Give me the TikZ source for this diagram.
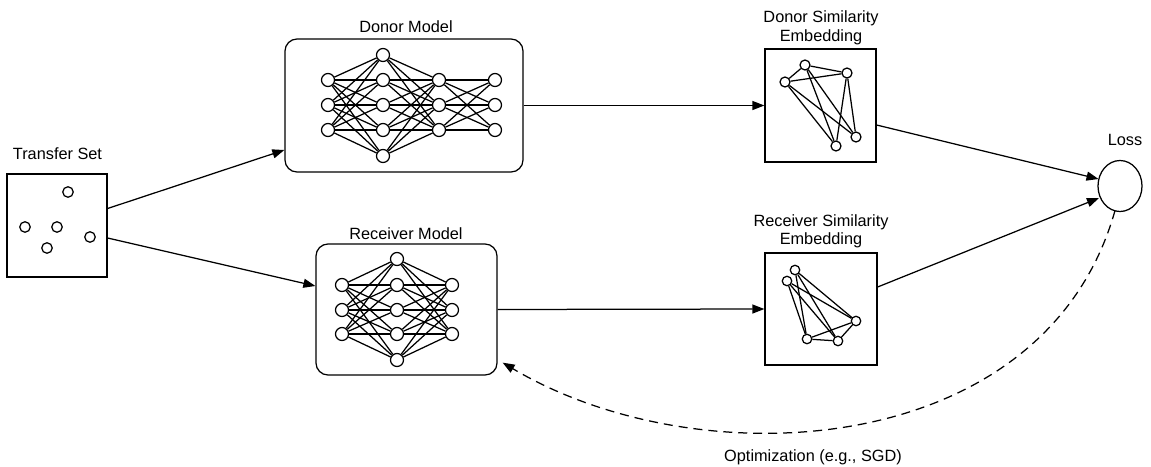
\documentclass[tikz,border=0pt]{standalone}
\usepackage{fontspec}
\setmainfont{Liberation Sans}
\usetikzlibrary{arrows.meta,backgrounds,calc,shapes.geometric}
\begin{document}
\begin{tikzpicture}[x=1pt,y=-1pt,
  wire/.style={line width=1.25pt},
  neuron/.style={circle,draw,fill=white,line width=1.25pt,minimum size=13pt,inner sep=0pt},
  sample/.style={circle,draw,fill=white,line width=1.25pt,minimum size=10.5pt,inner sep=0pt},
  gnode/.style={circle,draw,fill=white,line width=1.25pt,minimum size=10pt,inner sep=0pt},
  modelbox/.style={draw,rounded corners=12pt,line width=1.25pt,inner sep=0pt},
  plainbox/.style={draw,line width=1.25pt,inner sep=0pt},
  txt/.style={font=\fontsize{16.3}{19}\selectfont,inner sep=0pt,anchor=base},
  flow/.style={line width=1.25pt,-{Triangle[length=12pt,width=9pt]}},
]
\useasboundingbox (0,0) rectangle (1151,466);

% containers
\node[plainbox,minimum width=100pt,minimum height=103pt] (ts) at (57,225.5) {};
\node[modelbox,minimum width=238pt,minimum height=133pt] (donor) at (404,105.5) {};
\node[modelbox,minimum width=181pt,minimum height=131pt] (recv) at (406.5,309.5) {};
\node[plainbox,minimum width=111pt,minimum height=113pt] (dsim) at (820.5,105.5) {};
\node[plainbox,minimum width=112pt,minimum height=112pt] (rsim) at (821,309) {};
\node[ellipse,draw,line width=1.25pt,minimum width=44pt,minimum height=51pt,inner sep=0pt] (loss) at (1120,186) {};

% titles
\node[txt] (tsT) at (57.5,159) {Transfer Set};
\node[txt] (donorT) at (406,32) {Donor Model};
\node[txt] (recvT) at (406,239) {Receiver Model};
\node[txt] (dsimT1) at (821,22) {Donor Similarity};
\node[txt] (dsimT2) at (821,41) {Embedding};
\node[txt] (rsimT1) at (821,226) {Receiver Similarity};
\node[txt] (rsimT2) at (821,244) {Embedding};
\node[txt] (lossT) at (1125,145) {Loss};
\node[txt] (optT) at (813,461) {Optimization (e.g., SGD)};

% transfer set samples
\node[sample] (s1) at (68,192) {};
\node[sample] (s2) at (25,227) {};
\node[sample] (s3) at (57,227) {};
\node[sample] (s4) at (90,237) {};
\node[sample] (s5) at (47,248) {};

% donor network
\foreach \i/\y in {1/80,2/105,3/130} \node[neuron] (dA\i) at (328,\y) {};
\foreach \i/\y in {1/55,2/80,3/105,4/130,5/156} \node[neuron] (dB\i) at (383,\y) {};
\foreach \i/\y in {1/80,2/105,3/130} \node[neuron] (dC\i) at (439,\y) {};
\foreach \i/\y in {1/80,2/105,3/130} \node[neuron] (dD\i) at (495,\y) {};

% receiver network
\foreach \i/\y in {1/285,2/310,3/334} \node[neuron] (rA\i) at (342,\y) {};
\foreach \i/\y in {1/259,2/285,3/310,4/334,5/360} \node[neuron] (rB\i) at (397,\y) {};
\foreach \i/\y in {1/285,2/310,3/334} \node[neuron] (rC\i) at (452,\y) {};

% donor similarity graph
\node[gnode] (ga) at (805,65) {};
\node[gnode] (gb) at (847,73) {};
\node[gnode] (gc) at (785,82) {};
\node[gnode] (gd) at (856,137) {};
\node[gnode] (ge) at (836,146) {};

% receiver similarity graph
\node[gnode,minimum size=9.5pt] (hp) at (795,270) {};
\node[gnode,minimum size=9.5pt] (hq) at (787,281) {};
\node[gnode,minimum size=9.5pt] (hr) at (856,321) {};
\node[gnode,minimum size=9.5pt] (hs) at (807,339) {};
\node[gnode,minimum size=9.5pt] (ht) at (838,341) {};

\begin{scope}[on background layer]
  \foreach \a in {1,2,3} \foreach \b in {1,...,5} {
    \draw[wire] (dA\a) -- (dB\b);
    \draw[wire] (dB\b) -- (dC\a);
    \draw[wire] (rA\a) -- (rB\b);
    \draw[wire] (rB\b) -- (rC\a);
  }
  \foreach \a in {1,2,3} \foreach \b in {1,2,3} \draw[wire] (dC\a) -- (dD\b);
  \foreach \u/\v in {ga/gc,ga/gb,gc/gb,ga/ge,ga/gd,gc/gd,gc/ge,gb/ge,gb/gd}
    \draw[wire] (\u) -- (\v);
  \foreach \u/\v in {hp/hs,hp/ht,hp/hr,hq/hs,hq/ht,hq/hr,hs/hr,hs/ht,ht/hr}
    \draw[wire] (\u) -- (\v);
\end{scope}

% data flow
\draw[flow] ($(ts.east)+(0,-17)$) -- ($(donor.west)+(0,44.5)$);
\draw[flow] ($(ts.east)+(0,12.5)$) -- ($(recv.west)+(0,-23.5)$);
\draw[flow] (donor.east) -- (dsim.west);
\draw[flow] (recv.east) -- (rsim.west);
\draw[flow] ($(dsim.east)+(0,19.5)$) -- ($(loss.center)+(-21.5,-7)$);
\draw[flow] ($(rsim.east)+(0,-22)$) -- ($(loss.center)+(-21,12)$);

% feedback
\draw[flow,dash pattern=on 9pt off 6pt] ($(loss.center)+(-5,24.5)$)
  .. controls (1045,460) and (700,480) .. ($(recv.south east)+(5,-13)$);
\end{tikzpicture}
\end{document}
